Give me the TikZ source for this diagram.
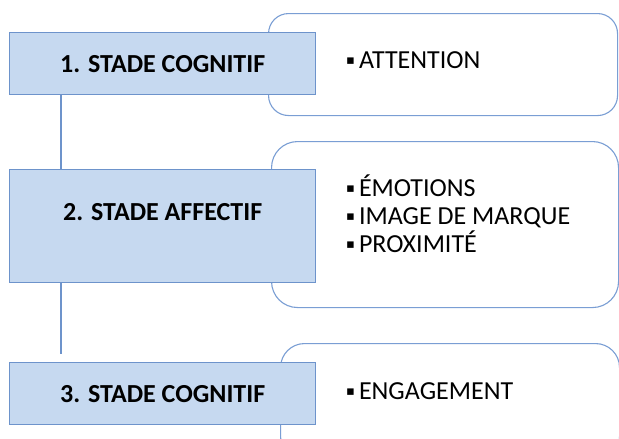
\documentclass[tikz,border=0pt]{standalone}
\usepackage{fontspec}
\setmainfont{Carlito}
\newfontfamily\bulletfont{DejaVu Sans}
\usetikzlibrary{positioning}
\definecolor{stadefill}{RGB}{198,217,240}
\definecolor{stadeline}{RGB}{109,147,203}
\definecolor{listline}{RGB}{122,158,212}
\newcommand{\bul}{\raisebox{4pt}{\bulletfont\fontsize{13}{13}\selectfont ▪}\hspace{4pt}}
\begin{document}
\begin{tikzpicture}[x=1pt,y=-1pt,
stadebox/.style={draw=stadeline,line width=1.4pt,fill=stadefill,
  minimum width=306,inner sep=0pt,anchor=north west,
  font=\fontsize{26}{28}\selectfont\bfseries},
listbox/.style={draw=listline,line width=1.1pt,fill=white,
  rounded corners=20,anchor=north west,inner sep=0pt},
listtext/.style={anchor=base west,inner sep=0pt,
  font=\fontsize{26}{28}\selectfont},
stadeconn/.style={draw=stadeline,line width=1.4pt}
]
\useasboundingbox (0,0) rectangle (619,439);
\clip (0,0) rectangle (619,439);
% les cadres de droite
\node[listbox,minimum width=349,minimum height=102] (r1) at (268,13) {};
\node[listbox,rounded corners=26,minimum width=347,minimum height=166] (r2) at (271,141) {};
\node[listbox,rounded corners=24,minimum width=339,minimum height=117] (r3) at (280,343) {};
% les stades
\node[stadebox,minimum height=62] (b1) at (9,32) {1. STADE COGNITIF};
\node[stadebox,minimum height=113,
  label={[yshift=14pt,font=\fontsize{26}{28}\selectfont\bfseries]center:2. STADE AFFECTIF}] (b2) at (9,169) {};
\node[stadebox,minimum height=62] (b3) at (9,362) {3. STADE COGNITIF};
\draw[stadeconn] ([xshift=52]b1.south west) -- ([xshift=52]b2.north west);
\draw[stadeconn,shorten >=8] ([xshift=52]b2.south west) -- ([xshift=52]b3.north west);
% les listes
\node[listtext] (attention) at (346,68) {\bul ATTENTION};
\node[listtext] (emotions) at (346,196) {\bul ÉMOTIONS};
\node[listtext] (image) at (346,224) {\bul IMAGE DE MARQUE};
\node[listtext] (proximite) at (346,252) {\bul PROXIMITÉ};
\node[listtext] (engagement) at (346,399) {\bul ENGAGEMENT};
\end{tikzpicture}
\end{document}
